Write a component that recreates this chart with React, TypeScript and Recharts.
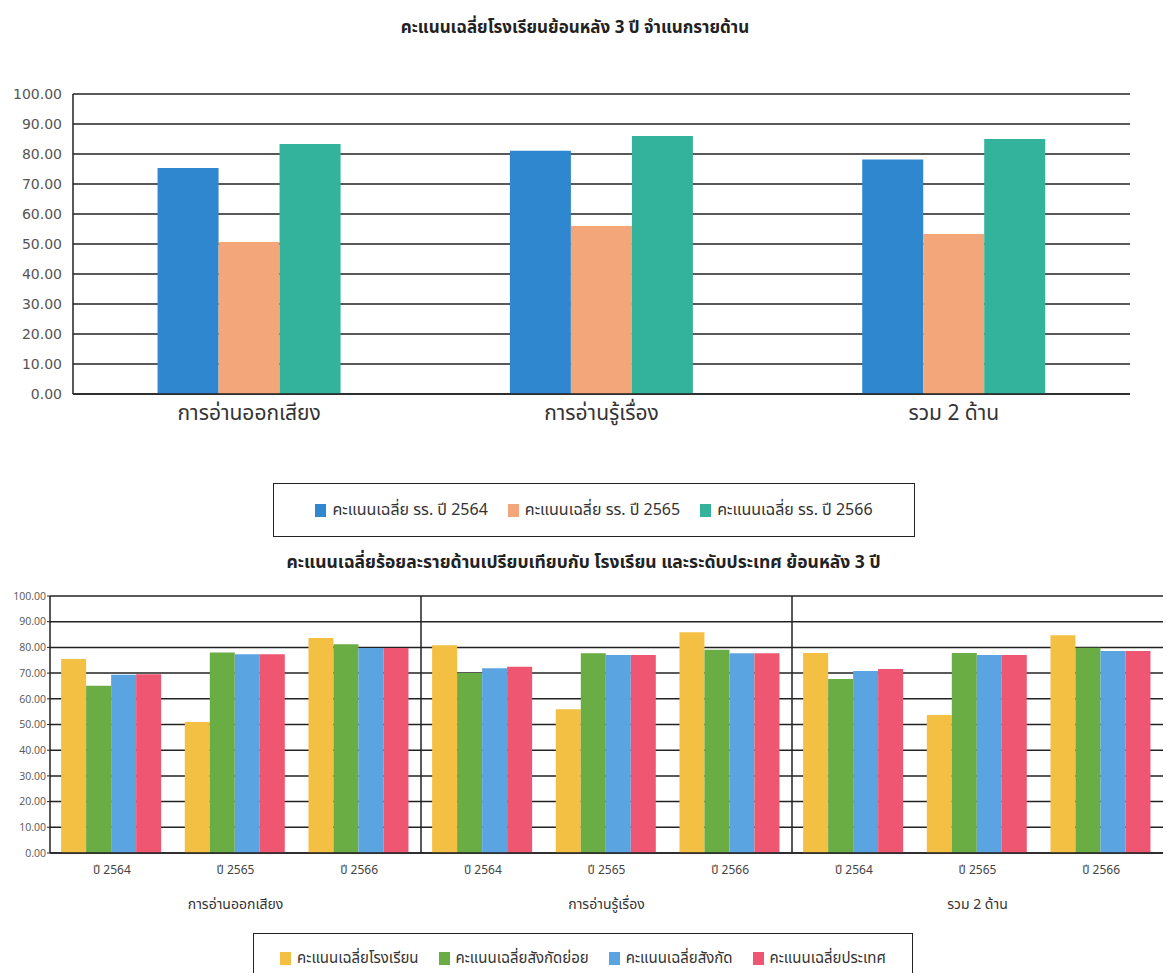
import React from 'react';
import { BarChart, Bar, XAxis, YAxis, CartesianGrid, ReferenceLine } from 'recharts';

// chart 1: school average by domain, 3 years
const domains = ['การอ่านออกเสียง', 'การอ่านรู้เรื่อง', 'รวม 2 ด้าน'];
const school2564 = [75.3, 81.1, 78.2];
const school2565 = [50.7, 56.0, 53.3];
const school2566 = [83.3, 86.0, 85.0];
const topSeries = [
  { key: 'y2564', name: 'คะแนนเฉลี่ย รร. ปี 2564', color: '#2f87d0', values: school2564 },
  { key: 'y2565', name: 'คะแนนเฉลี่ย รร. ปี 2565', color: '#f4a67b', values: school2565 },
  { key: 'y2566', name: 'คะแนนเฉลี่ย รร. ปี 2566', color: '#33b39c', values: school2566 },
];

// chart 2: per domain per year, school vs area vs nation
const years = ['ปี 2564', 'ปี 2565', 'ปี 2566'];
const schoolAvg = [75.5, 51.0, 83.7, 80.8, 55.9, 85.9, 77.8, 53.7, 84.7];
const subAreaAvg = [65.1, 78.0, 81.2, 70.0, 77.7, 79.1, 67.7, 77.8, 79.9];
const areaAvg = [69.4, 77.3, 79.8, 71.9, 77.0, 77.7, 70.8, 77.0, 78.6];
const nationAvg = [69.6, 77.3, 79.8, 72.5, 77.0, 77.7, 71.6, 77.0, 78.6];
const bottomSeries = [
  { key: 'school', name: 'คะแนนเฉลี่ยโรงเรียน', color: '#f4c043', values: schoolAvg },
  { key: 'subArea', name: 'คะแนนเฉลี่ยสังกัดย่อย', color: '#6aad45', values: subAreaAvg },
  { key: 'area', name: 'คะแนนเฉลี่ยสังกัด', color: '#5ba4e2', values: areaAvg },
  { key: 'nation', name: 'คะแนนเฉลี่ยประเทศ', color: '#ee5671', values: nationAvg },
];

const yTicks = [0, 10, 20, 30, 40, 50, 60, 70, 80, 90, 100];

const topData = domains.map((d, i) => {
  const row: any = { domain: d };
  topSeries.forEach((s) => (row[s.key] = s.values[i]));
  return row;
});

const bottomData: any[] = [];
domains.forEach((d, gi) => {
  years.forEach((y, yi) => {
    const idx = gi * 3 + yi;
    const row: any = { id: d + '|' + y, year: y, domain: d };
    bottomSeries.forEach((s) => (row[s.key] = s.values[idx]));
    bottomData.push(row);
  });
});

const FONT = '"Noto Sans Thai", Tahoma, "Noto Sans", "DejaVu Sans", sans-serif';
const LINE = '#222';

const GroupTick = (props: any) => {
  const { x, y, index, payload } = props;
  if (index % 3 !== 1) return null;
  const domain = String(payload.value).split('|')[0];
  return (
    <text x={x} y={y + 16} textAnchor="middle" fontSize={14} fill="#333" fontFamily={FONT}>
      {domain}
    </text>
  );
};

const LegendBox = ({ items, style, gap, fontSize }: any) => (
  <div
    style={{
      position: 'absolute',
      border: '1.5px solid #222',
      display: 'flex',
      alignItems: 'center',
      justifyContent: 'center',
      boxSizing: 'border-box',
      ...style,
    }}
  >
    {items.map((s: any) => (
      <div key={s.key} style={{ display: 'flex', alignItems: 'center', margin: `0 ${gap}px` }}>
        <span style={{ width: 11, height: 13, background: s.color, marginRight: 6, display: 'inline-block' }} />
        <span style={{ fontSize, color: '#333' }}>{s.name}</span>
      </div>
    ))}
  </div>
);

export default function App() {
  return (
    <div
      style={{
        position: 'absolute',
        left: 0,
        top: 0,
        width: 1167,
        height: 973,
        background: '#fff',
        fontFamily: FONT,
        overflow: 'hidden',
      }}
    >
      <div style={{ position: 'absolute', top: 15, left: 0, width: 1150, textAlign: 'center', fontWeight: 'bold', fontSize: 17, color: '#222' }}>
        คะแนนเฉลี่ยโรงเรียนย้อนหลัง 3 ปี จำแนกรายด้าน
      </div>

      <div style={{ position: 'absolute', top: 0, left: 0 }}>
        <BarChart width={1167} height={440} data={topData} margin={{ top: 94, right: 37, left: 0, bottom: 0 }} barCategoryGap="24%" barGap={0}>
          <CartesianGrid vertical={false} stroke={LINE} strokeWidth={1.5} />
          <XAxis
            dataKey="domain"
            height={46}
            axisLine={{ stroke: LINE, strokeWidth: 1.5 }}
            tickLine={false}
            tickMargin={5}
            tick={{ fontSize: 21, fill: '#333', fontFamily: FONT }}
          />
          <YAxis
            type="number"
            domain={[0, 100]}
            ticks={yTicks}
            width={73}
            axisLine={{ stroke: LINE, strokeWidth: 1.5 }}
            tickLine={false}
            tickMargin={5}
            tickFormatter={(v: number) => v.toFixed(2)}
            tick={{ fontSize: 14, fill: '#555', fontFamily: '"DejaVu Sans", sans-serif' }}
          />
          {topSeries.map((s) => (
            <Bar key={s.key} dataKey={s.key} name={s.name} fill={s.color} isAnimationActive={false} />
          ))}
        </BarChart>
      </div>

      <LegendBox items={topSeries} gap={10} fontSize={16} style={{ left: 273, top: 483, width: 642, height: 54 }} />

      <div style={{ position: 'absolute', top: 549, left: 0, width: 1167, textAlign: 'center', fontWeight: 'bold', fontSize: 17.5, color: '#222' }}>
        คะแนนเฉลี่ยร้อยละรายด้านเปรียบเทียบกับ โรงเรียน และระดับประเทศ ย้อนหลัง 3 ปี
      </div>

      <div style={{ position: 'absolute', top: 570, left: 0 }}>
        <BarChart width={1167} height={360} data={bottomData} margin={{ top: 26, right: 4, left: 0, bottom: 0 }} barCategoryGap="9%" barGap={0}>
          <CartesianGrid vertical={false} stroke={LINE} strokeWidth={1.5} />
          <XAxis
            dataKey="id"
            height={32}
            axisLine={{ stroke: LINE, strokeWidth: 1.5 }}
            tickLine={false}
            tickMargin={6}
            tickFormatter={(v: string) => v.split('|')[1]}
            tick={{ fontSize: 12, fill: '#444', fontFamily: FONT }}
          />
          <XAxis xAxisId="grp" dataKey="id" height={45} axisLine={false} tickLine={false} tick={<GroupTick />} interval={0} />
          <YAxis
            type="number"
            domain={[0, 100]}
            ticks={yTicks}
            width={50}
            axisLine={{ stroke: LINE, strokeWidth: 1.5 }}
            tickLine={{ stroke: LINE }}
            tickSize={3}
            tickMargin={1}
            tickFormatter={(v: number) => v.toFixed(2)}
            tick={{ fontSize: 10.5, fill: '#555', fontFamily: '"Open Sans", sans-serif' }}
          />
          {bottomSeries.map((s) => (
            <Bar key={s.key} dataKey={s.key} name={s.name} fill={s.color} isAnimationActive={false} />
          ))}
          <ReferenceLine x={bottomData[2].id} position="end" stroke={LINE} strokeWidth={1.5} />
          <ReferenceLine x={bottomData[5].id} position="end" stroke={LINE} strokeWidth={1.5} />
          <ReferenceLine x={bottomData[8].id} position="end" stroke={LINE} strokeWidth={1.5} />
        </BarChart>
      </div>

      <LegendBox items={bottomSeries} gap={10} fontSize={15} style={{ left: 253, top: 933, width: 660, height: 50 }} />
    </div>
  );
}
